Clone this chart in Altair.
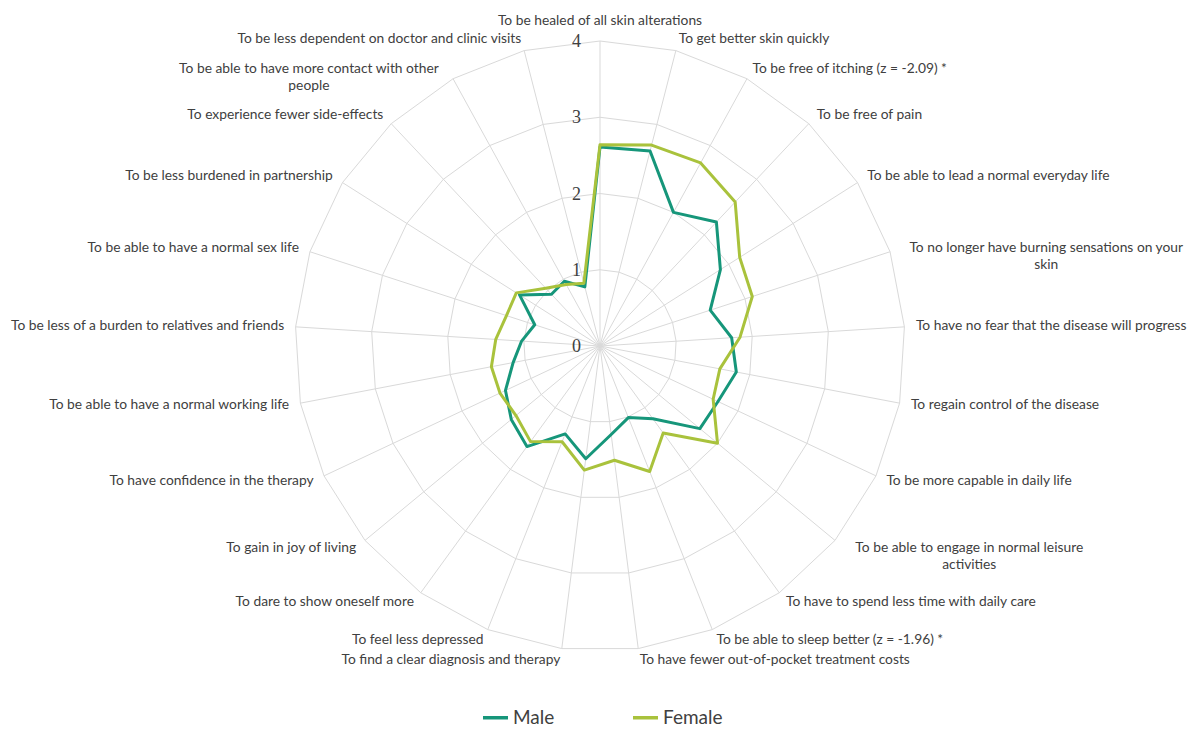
import altair as alt
import pandas as pd

categories = [
    "To be healed of all skin alterations",
    "To get better skin quickly",
    "To be free of itching (z = -2.09) *",
    "To be free of pain",
    "To be able to lead a normal everyday life",
    "To no longer have burning sensations on your\nskin",
    "To have no fear that the disease will progress",
    "To regain control of the disease",
    "To be more capable in daily life",
    "To be able to engage in normal leisure\nactivities",
    "To have to spend less time with daily care",
    "To be able to sleep better (z = -1.96) *",
    "To have fewer out-of-pocket treatment costs",
    "To find a clear diagnosis and therapy",
    "To feel less depressed",
    "To dare to show oneself more",
    "To gain in joy of living",
    "To have confidence in the therapy",
    "To be able to have a normal working life",
    "To be less of a burden to relatives and friends",
    "To be able to have a normal sex life",
    "To be less burdened in partnership",
    "To experience fewer side-effects",
    "To be able to have more contact with other\npeople",
    "To be less dependent on doctor and clinic visits",
]

male = [2.61, 2.64, 2.00, 2.23, 1.87, 1.52, 1.73, 1.82, 1.71, 1.70, 1.18, 1.01, 1.17,
        1.49, 1.24, 1.63, 1.51, 1.37, 1.16, 1.03, 0.90, 1.25, 0.93, 0.97, 0.80]
female = [2.64, 2.72, 2.74, 2.59, 2.17, 2.10, 1.84, 1.60, 1.64, 2.00, 1.41, 1.77, 1.51,
          1.64, 1.35, 1.55, 1.43, 1.45, 1.45, 1.37, 1.29, 1.30, 1.04, 0.92, 0.85]

series_names = ["Male", "Female"]
series_colors = ["#16967A", "#A9C23C"]
rings = [1, 2, 3, 4]
tick_labels = ["0", "1", "2", "3", "4"]
r_max = 4

N = len(categories)
W, H = 1183, 721
CX, CY = 592, 338          # centre of the radar in plot pixels
PX = 76.25                 # pixels per unit
LABEL_GAP = 11.5           # px between outer ring and category label
CHAR_W = 6.6               # approx px per character for label font

xscale = alt.Scale(domain=[-CX / PX, (W - CX) / PX], nice=False, zero=False)
yscale = alt.Scale(domain=[-(H - CY) / PX, CY / PX], nice=False, zero=False)

LABEL_FONT = "Lato"
TEXT_COLOR = "#404040"
GRID_COLOR = "#d9d9d9"

ang_expr = f"datum.idx * 2 * PI / {N}"

# ---- data tables
series_df = pd.DataFrame(
    [{"idx": i, "series": s, "value": v}
     for s, vals in zip(series_names, [male, female]) for i, v in enumerate(vals)]
)
grid_df = pd.DataFrame([{"ring": r, "idx": i} for r in rings for i in range(N)])
spoke_df = pd.DataFrame({"idx": list(range(N))})
tick_df = pd.DataFrame({"level": list(range(len(tick_labels))), "label": tick_labels})
label_df = pd.DataFrame({"idx": list(range(N)), "label": categories})

X = lambda f: alt.X(f, type="quantitative", scale=xscale, axis=None)
Y = lambda f: alt.Y(f, type="quantitative", scale=yscale, axis=None)

grid = (
    alt.Chart(grid_df)
    .transform_calculate(ang=ang_expr)
    .transform_calculate(gx="datum.ring * sin(datum.ang)", gy="datum.ring * cos(datum.ang)")
    .mark_line(interpolate="linear-closed", stroke=GRID_COLOR, strokeWidth=1)
    .encode(x=X("gx"), y=Y("gy"), detail="ring:N", order="idx:Q")
)

spokes = (
    alt.Chart(spoke_df)
    .transform_calculate(ang=ang_expr)
    .transform_calculate(zero="0", sx=f"{r_max} * sin(datum.ang)", sy=f"{r_max} * cos(datum.ang)")
    .mark_rule(stroke=GRID_COLOR, strokeWidth=1)
    .encode(x=X("zero"), y=Y("zero"), x2="sx:Q", y2="sy:Q")
)

ticks = (
    alt.Chart(tick_df)
    .transform_calculate(zero="0")
    .mark_text(align="right", baseline="middle", dx=-19, dy=1, font="Liberation Serif",
               fontSize=18, color=TEXT_COLOR)
    .encode(x=X("zero"), y=Y("level"), text="label:N")
)

color = alt.Color(
    "series:N",
    scale=alt.Scale(domain=series_names, range=series_colors),
    legend=alt.Legend(
        title=None, orient="none", legendX=473, legendY=695, direction="horizontal",
        symbolType="stroke", symbolSize=625, symbolStrokeWidth=3.5,
        labelFontSize=19, labelFont=LABEL_FONT, labelColor=TEXT_COLOR,
        labelOffset=3, columnPadding=71,
    ),
)

def series_layer(name):
    return (
        alt.Chart(series_df)
        .transform_filter(alt.datum.series == name)
        .transform_calculate(ang=ang_expr)
        .transform_calculate(px="datum.value * sin(datum.ang)", py="datum.value * cos(datum.ang)")
        .mark_line(interpolate="linear-closed", strokeWidth=3, strokeJoin="round")
        .encode(x=X("px"), y=Y("py"), color=color, order="idx:Q")
    )

lines = [series_layer(n) for n in series_names]

label_base = (
    alt.Chart(label_df)
    .transform_calculate(ang=ang_expr)
    .transform_calculate(
        ax=f"({r_max} + {LABEL_GAP / PX}) * sin(datum.ang)",
        ay=f"({r_max} + {LABEL_GAP / PX}) * cos(datum.ang)",
        wrapped="indexof(datum.label, '\\n') >= 0",
        hw=f"length(split(datum.label, '\\n')[0]) * {CHAR_W / 2 / PX}",
    )
)
txt = dict(font=LABEL_FONT, fontSize=13.8, color=TEXT_COLOR, lineBreak="\n", lineHeight=17)

lab_top = (
    label_base.transform_filter("datum.idx == 0")
    .mark_text(align="center", baseline="bottom", dy=-2, **txt)
    .encode(x=X("ax"), y=Y("ay"), text="label:N")
)
lab_right = (
    label_base.transform_filter("datum.idx > 0 && datum.idx <= 12 && !datum.wrapped")
    .mark_text(align="left", baseline="middle", **txt)
    .encode(x=X("ax"), y=Y("ay"), text="label:N")
)
lab_left = (
    label_base.transform_filter("datum.idx > 12 && !datum.wrapped")
    .mark_text(align="right", baseline="middle", **txt)
    .encode(x=X("ax"), y=Y("ay"), text="label:N")
)
lab_wrapped = (
    label_base.transform_filter("datum.wrapped")
    .transform_calculate(cx="datum.ax + (datum.idx <= 12 ? 1 : -1) * datum.hw")
    .mark_text(align="center", baseline="middle", **txt)
    .encode(x=X("cx"), y=Y("ay"), text="label:N")
)

chart = (
    alt.layer(grid, spokes, ticks, *lines, lab_top, lab_right, lab_left, lab_wrapped)
    .properties(width=W, height=H, autosize=alt.AutoSizeParams(type="none"), padding=0)
    .configure_view(stroke=None)
)

chart.save("out.html", embed_options={"renderer": "svg", "actions": False})
